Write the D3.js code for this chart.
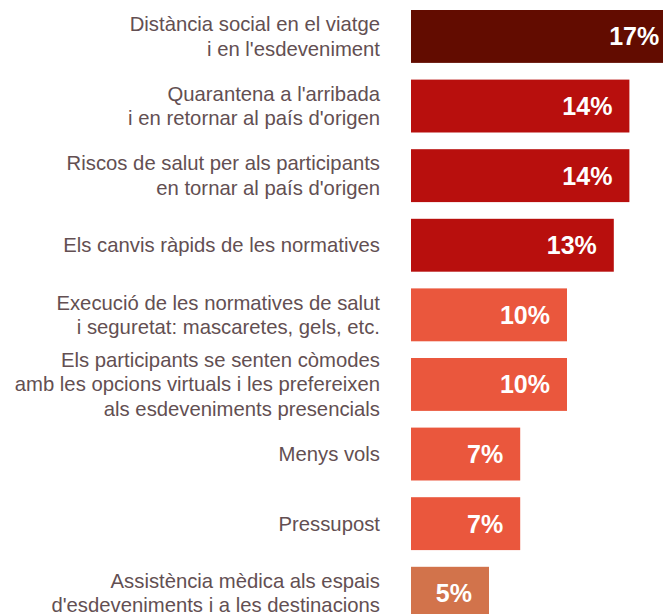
<!DOCTYPE html>
<html>
<head>
<meta charset="utf-8">
<script src="https://cdn.jsdelivr.net/npm/d3@7"></script>
<style>
  body { margin: 0; background: #fff; }
  svg { display: block; }
</style>
</head>
<body>
<div id="chart"></div>
<script>
var w = 663,
	h = 614;

// Data
var categories = [
	["Distància social en el viatge", "i en l'esdeveniment"],
	["Quarantena a l'arribada", "i en retornar al país d'origen"],
	["Riscos de salut per als participants", "en tornar al país d'origen"],
	["Els canvis ràpids de les normatives"],
	["Execució de les normatives de salut", "i seguretat: mascaretes, gels, etc."],
	["Els participants se senten còmodes", "amb les opcions virtuals i les prefereixen", "als esdeveniments presencials"],
	["Menys vols"],
	["Pressupost"],
	["Assistència mèdica als espais", "d'esdeveniments i a les destinacions"]
];
var values = [17, 14, 14, 13, 10, 10, 7, 7, 5];
var colors = ["#620c00", "#b80f0d", "#b80f0d", "#b80f0d", "#ea573d", "#ea573d", "#ea573d", "#ea573d", "#d2734b"];

var svg = d3.select("#chart").append("svg")
	.attr("width", w)
	.attr("height", h);

var x = d3.scaleLinear()
	.domain([0, 1])
	.range([0, 15.6]);

var step = 69.6,
	pad = 0.24;

var y = d3.scaleBand()
	.domain(d3.range(values.length))
	.range([10, 10 + step * (values.length - pad)])
	.paddingInner(pad)
	.paddingOuter(0);

var x0 = 411;

var rows = svg.selectAll("g.row")
	.data(values)
	.enter()
	.append("g")
	.attr("class", "row")
	.attr("transform", function(d, i){ return "translate(0," + y(i) + ")"; });

rows.append("rect")
	.attr("x", x0)
	.attr("y", 0)
	.attr("width", function(d){ return x(d); })
	.attr("height", y.bandwidth())
	.attr("fill", function(d, i){ return colors[i]; });

rows.append("text")
	.attr("x", function(d){ return x0 + x(d) - 17; })
	.attr("y", y.bandwidth() / 2 + 9)
	.attr("text-anchor", "end")
	.attr("font-family", "'Liberation Sans', Arial, sans-serif")
	.attr("font-weight", "bold")
	.attr("font-size", "25px")
	.attr("fill", "#fff")
	.text(function(d){ return d + "%"; });

// category labels, centred on the bar
rows.each(function(d, i){
	var lines = categories[i];
	var lh = 24.5;
	var t = d3.select(this).append("text")
		.attr("text-anchor", "end")
		.attr("font-family", "'Liberation Sans', Arial, sans-serif")
		.attr("font-size", "20.3px")
		.attr("fill", "#634f52");
	lines.forEach(function(s, k){
		t.append("tspan")
			.attr("x", 380)
			.attr("y", y.bandwidth() / 2 + (k - (lines.length - 1) / 2) * lh + 7)
			.text(s);
	});
});
</script>
</body>
</html>
